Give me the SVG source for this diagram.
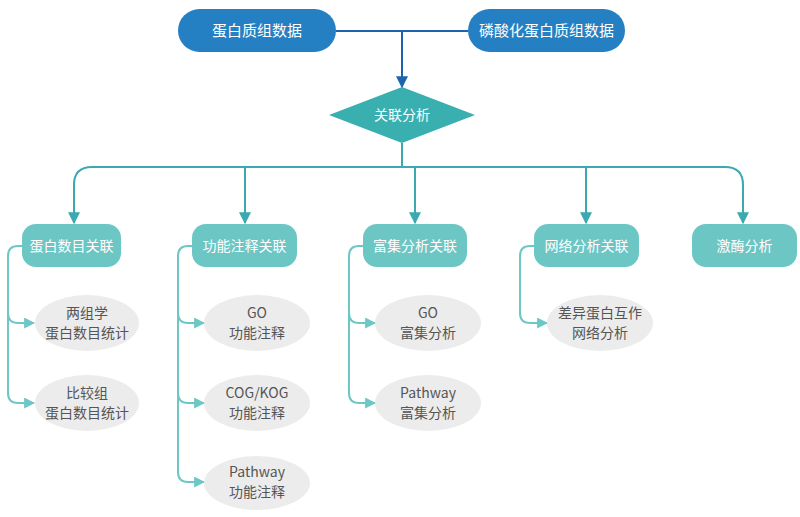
<svg xmlns="http://www.w3.org/2000/svg" width="800" height="517" viewBox="0 0 800 517">
<defs>
<marker id="ab" viewBox="0 0 10 10" refX="9" refY="5" markerWidth="12" markerHeight="12" orient="auto" markerUnits="userSpaceOnUse"><path d="M0,0 L10,5 L0,10 z" fill="#1d64ad"/></marker>
<marker id="at" viewBox="0 0 10 10" refX="9" refY="5" markerWidth="12" markerHeight="12" orient="auto" markerUnits="userSpaceOnUse"><path d="M0,0 L10,5 L0,10 z" fill="#3aa9b0"/></marker>
<marker id="al" viewBox="0 0 10 10" refX="9" refY="5" markerWidth="11" markerHeight="11" orient="auto" markerUnits="userSpaceOnUse"><path d="M0,0 L10,5 L0,10 z" fill="#6cc7c6"/></marker>
</defs>
<style>
text{font-family:"Noto Sans CJK SC","Liberation Sans",sans-serif;text-anchor:middle}
.pill{fill:#2580c3}
.pt{fill:#fff;font-size:15px}
.dia{fill:#3aafb0}
.node{fill:#6cc6c4}
.nt{fill:#fff;font-size:14px}
.ell{fill:#ececec}
.et{fill:#555;font-size:14px}
.cb{fill:none;stroke:#1d64ad;stroke-width:2}
.ct{fill:none;stroke:#3aa9b0;stroke-width:2}
.cl{fill:none;stroke:#6cc7c6;stroke-width:2}
</style>
<rect width="800" height="517" fill="#fff"/>
<g id="connectors">
<path class="cb" d="M336,31 H468"/>
<path class="cb" d="M402,31 V87" marker-end="url(#ab)"/>
<path class="ct" d="M402,143 V167"/>
<path class="ct" d="M743,223 V185 Q743,167 725,167 H92 Q74,167 74,185 V223" marker-end="url(#at)"/>
<path class="ct" d="M743,185 V223" marker-end="url(#at)"/>
<path class="ct" d="M245,167 V223" marker-end="url(#at)"/>
<path class="ct" d="M415,167 V223" marker-end="url(#at)"/>
<path class="ct" d="M586,167 V223" marker-end="url(#at)"/>
<path class="cl" d="M22,246 H18 Q8,246 8,256 V313 Q8,323 18,323 H34" marker-end="url(#al)"/>
<path class="cl" d="M8,313 V393 Q8,403 18,403 H34" marker-end="url(#al)"/>
<path class="cl" d="M192,246 H188 Q178,246 178,256 V313 Q178,323 188,323 H204" marker-end="url(#al)"/>
<path class="cl" d="M178,313 V393 Q178,403 188,403 H204" marker-end="url(#al)"/>
<path class="cl" d="M178,393 V472 Q178,482 188,482 H204" marker-end="url(#al)"/>
<path class="cl" d="M363,246 H359 Q349,246 349,256 V313 Q349,323 359,323 H375" marker-end="url(#al)"/>
<path class="cl" d="M349,313 V393 Q349,403 359,403 H375" marker-end="url(#al)"/>
<path class="cl" d="M534,246 H530 Q520,246 520,256 V313 Q520,323 530,323 H547" marker-end="url(#al)"/>
</g>
<g id="n-protein"><rect class="pill" x="178" y="9" width="158" height="43" rx="21.5"/><text class="pt" x="257" y="36">蛋白质组数据</text></g>
<g id="n-phospho"><rect class="pill" x="468" y="9" width="157" height="43" rx="21.5"/><text class="pt" x="546.5" y="36">磷酸化蛋白质组数据</text></g>
<g id="n-assoc"><polygon class="dia" points="329,115 402,87 475,115 402,143"/><text class="nt" x="402" y="120">关联分析</text></g>
<g id="n-count"><rect class="node" x="22" y="224" width="99" height="43" rx="14"/><text class="nt" x="71.5" y="251">蛋白数目关联</text></g>
<g id="n-func"><rect class="node" x="192" y="224" width="105" height="43" rx="14"/><text class="nt" x="244.5" y="251">功能注释关联</text></g>
<g id="n-enrich"><rect class="node" x="363" y="224" width="104" height="43" rx="14"/><text class="nt" x="415" y="251">富集分析关联</text></g>
<g id="n-network"><rect class="node" x="534" y="224" width="105" height="43" rx="14"/><text class="nt" x="586.5" y="251">网络分析关联</text></g>
<g id="n-kinase"><rect class="node" x="692" y="224" width="105" height="43" rx="14"/><text class="nt" x="744.5" y="251">激酶分析</text></g>
<g id="e-two"><ellipse class="ell" cx="87" cy="323" rx="52" ry="28"/><text class="et" x="87" y="318">两组学</text><text class="et" x="87" y="338">蛋白数目统计</text></g>
<g id="e-cmp"><ellipse class="ell" cx="87" cy="403" rx="52" ry="28"/><text class="et" x="87" y="398">比较组</text><text class="et" x="87" y="418">蛋白数目统计</text></g>
<g id="e-go"><ellipse class="ell" cx="257" cy="323" rx="53" ry="28"/><text class="et" x="257" y="318">GO</text><text class="et" x="257" y="338">功能注释</text></g>
<g id="e-cog"><ellipse class="ell" cx="257" cy="403" rx="53" ry="28"/><text class="et" x="257" y="398">COG/KOG</text><text class="et" x="257" y="418">功能注释</text></g>
<g id="e-path"><ellipse class="ell" cx="257" cy="483" rx="53" ry="27"/><text class="et" x="257" y="477">Pathway</text><text class="et" x="257" y="497">功能注释</text></g>
<g id="e-goe"><ellipse class="ell" cx="428" cy="323" rx="53" ry="28"/><text class="et" x="428" y="318">GO</text><text class="et" x="428" y="338">富集分析</text></g>
<g id="e-pathe"><ellipse class="ell" cx="428" cy="403" rx="53" ry="28"/><text class="et" x="428" y="398">Pathway</text><text class="et" x="428" y="418">富集分析</text></g>
<g id="e-ppi"><ellipse class="ell" cx="600" cy="323" rx="53" ry="28"/><text class="et" x="600" y="318">差异蛋白互作</text><text class="et" x="600" y="338">网络分析</text></g>
</svg>
